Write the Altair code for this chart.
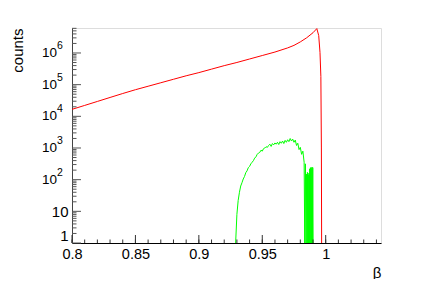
import altair as alt
import pandas as pd

# ---- data ----
red_beta = [0.80, 0.81, 0.82, 0.83, 0.84, 0.85, 0.86, 0.87, 0.88, 0.89, 0.90,
            0.91, 0.92, 0.93, 0.94, 0.95, 0.96, 0.97, 0.975, 0.98, 0.985, 0.99,
            0.993, 0.9945, 0.9955, 0.9962, 0.9966, 0.9968]
red_counts = [16600, 22100, 29500, 39400, 52500, 69200, 89100, 114800, 147900, 190500, 239900,
              309000, 398100, 501200, 645700, 831800, 1071500, 1445400, 1737800, 2238700, 3020000, 4365000,
              5888000, 3548000, 1047000, 182000, 1000, 1]

green_beta = [0.929, 0.930, 0.931, 0.932, 0.933, 0.934, 0.935, 0.936, 0.937, 0.938, 0.939,
              0.940, 0.941, 0.942, 0.943, 0.944, 0.945, 0.946, 0.947, 0.948, 0.949,
              0.950, 0.951, 0.952, 0.953, 0.954, 0.955, 0.956, 0.957, 0.958, 0.959,
              0.960, 0.961, 0.962, 0.963, 0.964, 0.965, 0.966, 0.967, 0.968, 0.969,
              0.970, 0.971, 0.972, 0.973, 0.974, 0.975, 0.976, 0.977, 0.978, 0.979,
              0.980, 0.981, 0.982, 0.983, 0.9835, 0.984, 0.9845,
              0.9850, 0.9853, 0.9856, 0.9859, 0.9862, 0.9865, 0.9868, 0.9871, 0.9874,
              0.9877, 0.9880, 0.9883, 0.9886, 0.9889, 0.9892, 0.9895, 0.9898, 0.9901, 0.9903]
green_counts = [1, 8, 22, 40, 63, 80, 105, 126, 166, 190, 240,
                263, 316, 355, 398, 479, 525, 630, 692, 724, 851,
                794, 955, 1000, 1096, 1047, 1202, 1318, 1122, 1380, 1259,
                1445, 1318, 1514, 1288, 1585, 1413, 1660, 1380, 1738, 1514,
                1820, 1585, 1995, 1660, 1905, 1514, 1778, 1202, 1413, 891,
                1047, 631, 794, 355, 1, 316, 1,
                150, 1, 170, 1, 140, 1, 160, 1, 220, 1,
                240, 1, 230, 1, 250, 1, 240, 1, 1]

x_major = [0.8, 0.85, 0.9, 0.95, 1.0]
x_minor = [round(0.80 + 0.01 * i, 2) for i in range(25)]
y_major = [1, 10, 100, 1000, 10000, 100000, 1000000]
y_minor = [m * 10 ** e for e in range(0, 7) for m in range(2, 10) if m * 10 ** e < 6.15e6]
exp_values = [100, 1000, 10000, 100000, 1000000]
exp_labels = ["2", "3", "4", "5", "6"]

W, H = 309, 215
FONT = "Liberation Sans"

xscale = alt.Scale(domain=[0.8, 1.0436], nice=False, zero=False)
yscale = alt.Scale(type="log", domain=[1, 6.15e6], nice=False)

red_df = pd.DataFrame({"beta": red_beta, "counts": red_counts})
green_df = pd.DataFrame({"beta": green_beta, "counts": green_counts})

x_axis = alt.Axis(values=x_major, format="~g", ticks=False, tickSize=0, grid=False,
                  labelFlush=False, labelOverlap=False,
                  labelFont=FONT, labelFontSize=14.5, labelColor="black", labelPadding=4,
                  domainColor="black", title="β", titleFont=FONT, titleFontSize=15,
                  titleFontWeight="normal", titleColor="black", titleX=W, titleY=34,
                  titleAlign="right", titleBaseline="alphabetic")
y_axis = alt.Axis(values=[1, 10], labelExpr="datum.value == 1 ? '1\u00a0' : '10'",
                  labelFlush=False, labelOverlap=False,
                  ticks=False, tickSize=0, grid=False, labelFont=FONT, labelFontSize=15,
                  labelColor="black", labelPadding=4, domainColor="#444",
                  labelOffset={"condition": {"test": "datum.value == 1", "value": -8}, "value": 0},
                  title="counts", titleFont=FONT, titleFontSize=15, titleFontWeight="normal",
                  titleColor="black", titleX=-50, titleY=0, titleAngle=270,
                  titleAlign="right", titleBaseline="alphabetic")


def X():
    return alt.X("beta:Q", scale=xscale, axis=x_axis)


def Y():
    return alt.Y("counts:Q", scale=yscale, axis=y_axis)


red = alt.Chart(red_df).mark_line(color="#ff0000", strokeWidth=1, clip=True).encode(x=X(), y=Y())
green = alt.Chart(green_df).mark_line(color="#00ff00", strokeWidth=1, clip=True).encode(x=X(), y=Y())

xmaj = alt.Chart(pd.DataFrame({"beta": x_major})).mark_rule(color="#333", strokeWidth=1).encode(
    x=X(), y=alt.value(H), y2=alt.value(H - 8))
xmin = alt.Chart(pd.DataFrame({"beta": x_minor})).mark_rule(color="#333", strokeWidth=1).encode(
    x=X(), y=alt.value(H), y2=alt.value(H - 3.5))
ymaj = alt.Chart(pd.DataFrame({"counts": y_major})).mark_rule(color="#555", strokeWidth=1).encode(
    y=Y(), x=alt.value(0), x2=alt.value(9))
ymin = alt.Chart(pd.DataFrame({"counts": y_minor})).mark_rule(color="#555", strokeWidth=1).encode(
    y=Y(), x=alt.value(0), x2=alt.value(4.5))

exp_df = pd.DataFrame({"counts": exp_values, "exp": exp_labels})
base_txt = alt.Chart(exp_df).mark_text(align="right", baseline="middle", font=FONT,
                                       fontSize=13.5, color="black").encode(
    y=Y(), x=alt.value(-15), text=alt.value("10"))
exp_txt = alt.Chart(exp_df).mark_text(align="left", baseline="middle", font=FONT,
                                      fontSize=10.5, color="black", dy=-7).encode(
    y=Y(), x=alt.value(-15), text="exp:N")

chart = alt.layer(red, green, xmin, xmaj, ymin, ymaj, base_txt, exp_txt).properties(
    width=W, height=H,
    padding={"left": 64, "top": 20, "right": 34, "bottom": 36},
    autosize=alt.AutoSizeParams(type="none"),
).configure_view(stroke="#7f7f7f", strokeWidth=1).configure(background="white")

chart.save("out.html", embed_options={"renderer": "svg", "actions": False})
